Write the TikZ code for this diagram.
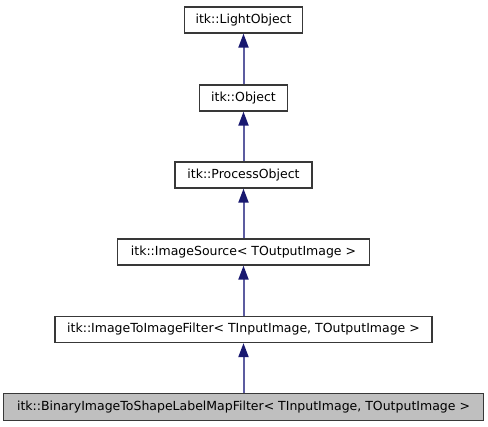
\documentclass[tikz,border=0pt]{standalone}
\usepackage{fontspec}
\setmainfont{DejaVu Sans}
\usetikzlibrary{arrows.meta}
\definecolor{midnight}{HTML}{191970}
\definecolor{edgeline}{HTML}{5C5CA0}
\definecolor{boxborder}{HTML}{383838}
\definecolor{boxgray}{HTML}{BFBFBF}
\begin{document}
\begin{tikzpicture}[x=1pt,y=-1pt,
  cls/.style={draw=boxborder, line width=1.3pt, fill=white, inner sep=0pt,
    minimum height=26pt, font=\fontsize{12.5}{14}\selectfont, text=black},
  cur/.style={cls, fill=boxgray},
  inherit/.style={draw=edgeline, line width=2pt,
    {Triangle[length=14pt,width=10pt,color=midnight]}-}]
\useasboundingbox (0,0) rectangle (488,427);
\node[cls, minimum width=118pt] (lo) at (243.5,20) {itk::LightObject};
\node[cls, minimum width=88pt] (ob) at (243.5,98) {itk::Object};
\node[cls, minimum width=137pt] (po) at (243.5,175) {itk::ProcessObject};
\node[cls, minimum width=252pt] (is) at (243.5,252) {itk::ImageSource< TOutputImage >};
\node[cls, minimum width=377pt] (iti) at (243.5,329.5) {itk::ImageToImageFilter< TInputImage, TOutputImage >};
\node[cur, minimum width=480pt, minimum height=27pt] (bin) at (243.5,407) {itk::BinaryImageToShapeLabelMapFilter< TInputImage, TOutputImage >};
\draw[inherit] (lo) -- (ob);
\draw[inherit] (ob) -- (po);
\draw[inherit] (po) -- (is);
\draw[inherit] (is) -- (iti);
\draw[inherit] (iti) -- (bin);
\end{tikzpicture}
\end{document}
